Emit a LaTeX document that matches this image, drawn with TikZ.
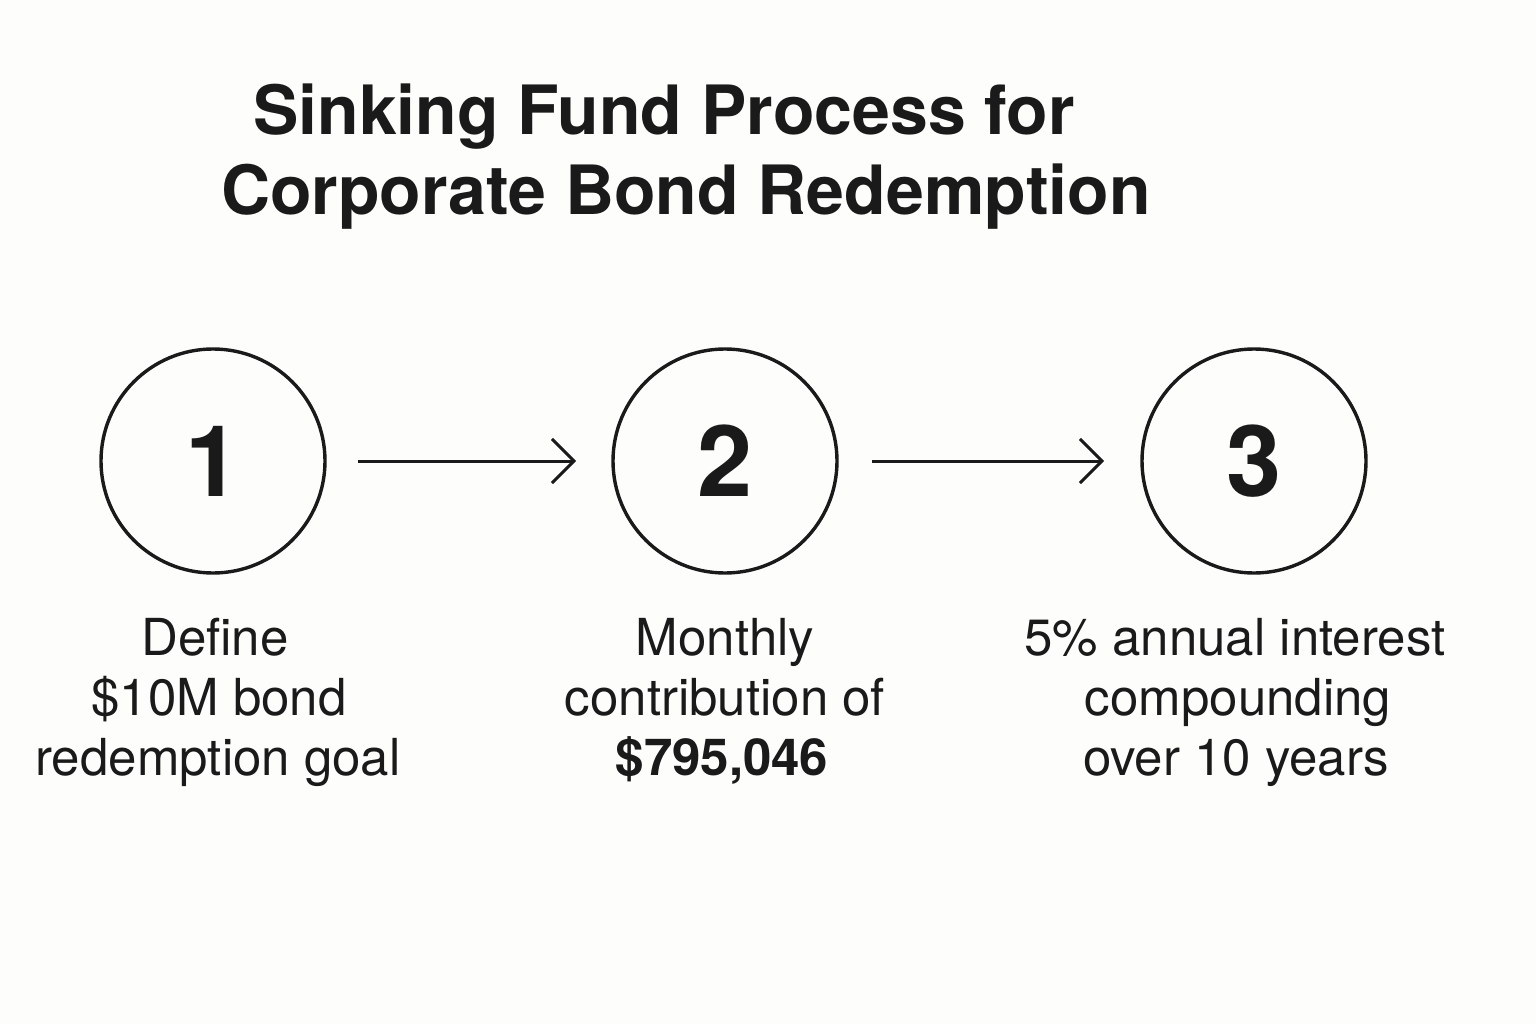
\documentclass[tikz,border=0pt]{standalone}
\usepackage{fontspec}
\setmainfont{TeX Gyre Heros}
\usetikzlibrary{arrows.meta}
\definecolor{bg}{HTML}{FDFDFB}
\definecolor{ink}{HTML}{1A1A1A}
\tikzset{
  stepcircle/.style={draw=ink, line width=3.4pt, circle, minimum size=224pt, inner sep=0pt,
     font=\fontsize{99}{99}\selectfont\bfseries, text=ink},
  flow/.style={draw=ink, line width=3pt, -{Straight Barb[length=22pt,width=44pt,line width=3pt]}},
  title/.style={font=\fontsize{68}{68}\selectfont\bfseries, text=ink, anchor=base, inner sep=0pt},
  body/.style={font=\fontsize{51}{60}\selectfont, text=ink, align=center, anchor=base, inner sep=0pt}
}
\begin{document}
\begin{tikzpicture}[x=1pt,y=-1pt]
\fill[bg] (0,0) rectangle (1536,1024);
\useasboundingbox (0,0) rectangle (1536,1024);
\node[title] (t1) at (664,135) {Sinking Fund Process for};
\node[title] (t2) at (686,215) {Corporate Bond Redemption};
\node[stepcircle] (c1) at (213,461) {1};
\node[stepcircle] (c2) at (725,461) {2};
\node[stepcircle] (c3) at (1254,461) {3};
\coordinate (a1s) at (358,461); \coordinate (a1e) at (576,461);
\coordinate (a2s) at (872,461); \coordinate (a2e) at (1104,461);
\draw[flow] (a1s) -- (a1e);
\draw[flow] (a2s) -- (a2e);
\node[body] (d1a) at (215,655) {Define};
\node[body] (d1b) at (219,715) {\$10M bond};
\node[body] (d1c) at (218,775) {redemption goal};
\node[body] (d2a) at (725,655) {Monthly};
\node[body] (d2b) at (725,715) {contribution of};
\node[body] (d2c) at (722,775) {\bfseries\$795,046};
\node[body] (d3a) at (1235,655) {5\% annual interest};
\node[body] (d3b) at (1238,715) {compounding};
\node[body] (d3c) at (1236,775) {over 10 years};
\end{tikzpicture}
\end{document}
